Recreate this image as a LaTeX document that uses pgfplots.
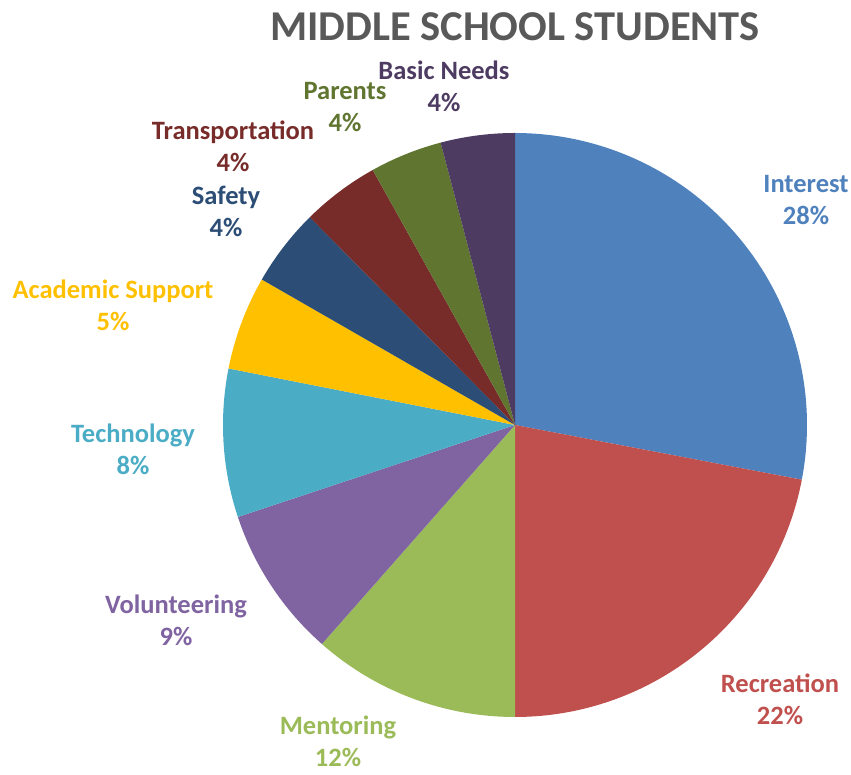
\documentclass[border=0pt]{standalone}
\usepackage{pgfplots}
\pgfplotsset{compat=1.18}
\usepackage{pgfplotstable}
\usepackage{fontspec}
\setmainfont{Carlito}

\definecolor{cInt}{HTML}{4F81BD}
\definecolor{cRec}{HTML}{C0504D}
\definecolor{cMen}{HTML}{9BBB59}
\definecolor{cVol}{HTML}{8064A2}
\definecolor{cTec}{HTML}{4BACC6}
\definecolor{cAca}{HTML}{FFC000}
\definecolor{cSaf}{HTML}{2C4D75}
\definecolor{cTra}{HTML}{772C2A}
\definecolor{cPar}{HTML}{5F7530}
\definecolor{cBas}{HTML}{4D3B62}
\definecolor{ctitle}{HTML}{595959}

\tikzset{lbl/.style={align=center, inner sep=1pt, font={\fontsize{26.5}{32}\selectfont\bfseries}}}

% share of each slice, in percent, clockwise from 12 o'clock
\pgfplotstableread{
name value color
Interest 28.0 cInt
Recreation 22.0 cRec
Mentoring 11.5 cMen
Volunteering 8.4 cVol
Technology 8.2 cTec
Academic 5.2 cAca
Safety 4.3 cSaf
Transportation 4.3 cTra
Parents 4.0 cPar
BasicNeeds 4.1 cBas
}\piedata

\begin{document}
\begin{tikzpicture}
\begin{axis}[
    width=851pt, height=775pt,
    scale only axis,
    xmin=0, xmax=851, ymin=0, ymax=775,
    hide axis,
    clip=false,
]
    \path (axis cs:0,0) rectangle (axis cs:851,775);
    \pgfplotstablegetrowsof{\piedata}
    \pgfmathtruncatemacro\nrows{\pgfplotsretval-1}
    \def\cum{0}
    \pgfplotsforeachungrouped \i in {0,...,\nrows}{%
        \pgfplotstablegetelem{\i}{value}\of\piedata \let\sliceval\pgfplotsretval
        \pgfplotstablegetelem{\i}{color}\of\piedata \let\slicecol\pgfplotsretval
        \pgfmathsetmacro\aS{90-3.6*\cum}
        \pgfmathsetmacro\aE{90-3.6*(\cum+\sliceval)}
        \pgfmathsetmacro\cum{\cum+\sliceval}
        \edef\doslice{\noexpand\addplot[draw=none, fill=\slicecol, domain=\aE:\aS, samples=80, variable=\noexpand\t]
            ({515+292*cos(\noexpand\t)},{350+292*sin(\noexpand\t)}) -- (axis cs:515,350) -- cycle;}
        \doslice
    }

    \node[align=center, text=ctitle, font={\fontsize{42.5}{46}\selectfont\bfseries}] at (axis cs:515,748) {MIDDLE SCHOOL STUDENTS};
    \node[lbl, text=cInt] at (axis cs:806,575) {Interest\\28\%};
    \node[lbl, text=cRec] at (axis cs:780,76) {Recreation\\22\%};
    \node[lbl, text=cMen] at (axis cs:338,34) {Mentoring\\12\%};
    \node[lbl, text=cVol] at (axis cs:176,155) {Volunteering\\9\%};
    \node[lbl, text=cTec] at (axis cs:133,326) {Technology\\8\%};
    \node[lbl, text=cAca] at (axis cs:113,470) {Academic Support\\5\%};
    \node[lbl, text=cSaf] at (axis cs:226,564) {Safety\\4\%};
    \node[lbl, text=cTra] at (axis cs:233,629) {Transportation\\4\%};
    \node[lbl, text=cPar] at (axis cs:345,668) {Parents\\4\%};
    \node[lbl, text=cBas] at (axis cs:444,689) {Basic Needs\\4\%};
\end{axis}
\end{tikzpicture}
\end{document}
